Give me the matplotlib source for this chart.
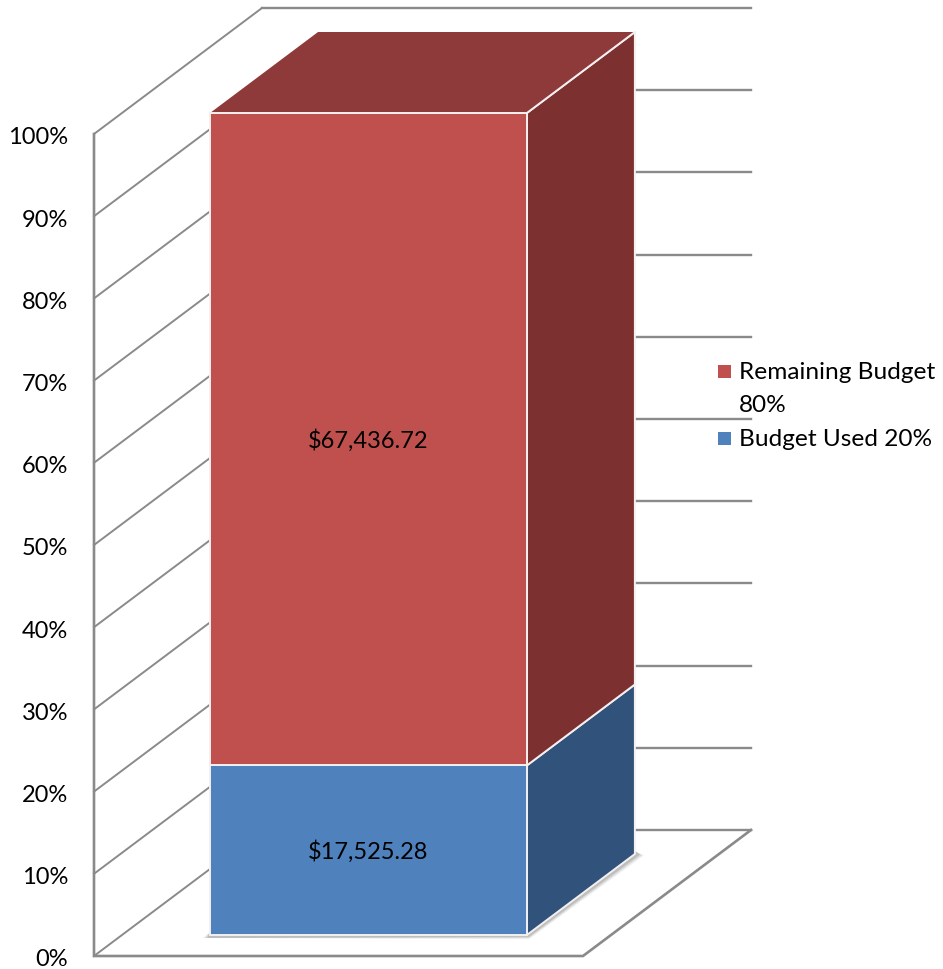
import matplotlib
matplotlib.use("Agg")
import matplotlib.pyplot as plt
from matplotlib.patches import Polygon, Rectangle

plt.rcParams["font.family"] = ["Lato", "DejaVu Sans"]

# data
series_names = ["Budget Used", "Remaining Budget"]
amounts = [17525.28, 67436.72]
front_colors = ["#4f81bd", "#c0504d"]
side_colors = ["#31527a", "#7c3130"]
top_color = "#8f3a3a"
tick_values = [0, 10, 20, 30, 40, 50, 60, 70, 80, 90, 100]
tick_labels = ["0%", "10%", "20%", "30%", "40%", "50%", "60%", "70%", "80%", "90%", "100%"]
legend_labels = ["Remaining Budget\n80%", "Budget Used 20%"]

GRID = "#8a8a8a"
FS = 17
LEGEND_FS = 17.6


def project(u, pct, d):
    # u along the floor, pct up the wall, d into the depth -> pixel position
    x = 94 + 489 * u + 168 * d
    y = 957 - 8.22 * pct - 126 * d
    return x, y


fig = plt.figure(figsize=(9.43, 9.70), dpi=100)
ax = fig.add_axes([0, 0, 1, 1])
ax.set_xlim(0, 943)
ax.set_ylim(970, 0)
ax.axis("off")

# back wall and side wall gridlines
for t in tick_values:
    ax.plot(*zip(project(0, t, 0), project(0, t, 1)), color=GRID, lw=1.4, zorder=1)
    ax.plot(*zip(project(0, t, 1), project(1, t, 1)), color=GRID, lw=1.7, zorder=1)

# axis line and floor
ax.plot(*zip(project(0, 100, 0), project(0, 0, 0), project(1, 0, 0), project(1, 0, 1)),
        color=GRID, lw=1.9, zorder=1, solid_joinstyle="miter")

# bar geometry
u0, u1 = 0.18, 0.828
d0, d1 = 0.1667, 0.8095
total = sum(amounts)

# soft shadow under the column
for grow, alpha in [(7, 0.10), (5, 0.14), (3, 0.2)]:
    a = project(u0, 0, d0)
    b = project(u1, 0, d0)
    c = project(u1, 0, d1)
    shadow = [(a[0] - grow, a[1] + 3), (b[0] + 2, b[1] + grow * 0.6),
              (c[0] + grow + 2, c[1] + grow * 0.2), (c[0], c[1] - 3), (a[0], a[1] - 3)]
    ax.add_patch(Polygon(shadow, closed=True, fc="#555555", ec="none", alpha=alpha, zorder=2))

bottom = 0
for name, amount, fc, sc in zip(series_names, amounts, front_colors, side_colors):
    pct = amount / total * 100
    top = bottom + pct
    ax.add_patch(Polygon([project(u1, bottom, d0), project(u1, bottom, d1),
                          project(u1, top, d1), project(u1, top, d0)],
                         closed=True, fc=sc, ec="#f4f0f0", lw=1.4, zorder=3))
    ax.add_patch(Polygon([project(u0, bottom, d0), project(u1, bottom, d0),
                          project(u1, top, d0), project(u0, top, d0)],
                         closed=True, fc=fc, ec="#f4f0f0", lw=1.4, zorder=4))
    cx, cy = project((u0 + u1) / 2, bottom + pct / 2, d0)
    ax.text(cx, cy, f"${amount:,.2f}", ha="center", va="center", fontsize=FS,
            color="black", zorder=6)
    bottom = top

# top of the column
ax.add_patch(Polygon([project(u0, 100, d0), project(u1, 100, d0),
                      project(u1, 100, d1), project(u0, 100, d1)],
                     closed=True, fc=top_color, ec="none", zorder=5))
ax.plot(*zip(project(u0, 100, d0), project(u1, 100, d0), project(u1, 100, d1)),
        color="#f4f0f0", lw=1.4, zorder=5)

# tick labels
for t, lab in zip(tick_values, tick_labels):
    x, y = project(0, t, 0)
    ax.text(68, y + 3, lab, ha="right", va="center", fontsize=FS, color="black")

# legend
ax.add_patch(Rectangle((718, 366), 13, 13, fc=front_colors[1], ec="none"))
ax.text(739, 373, legend_labels[0].split("\n")[0], ha="left", va="center", fontsize=LEGEND_FS)
ax.text(739, 406, legend_labels[0].split("\n")[1], ha="left", va="center", fontsize=LEGEND_FS)
ax.add_patch(Rectangle((718, 433), 13, 13, fc=front_colors[0], ec="none"))
ax.text(739, 440, legend_labels[1], ha="left", va="center", fontsize=LEGEND_FS)

fig.savefig("out.png", dpi=100)
